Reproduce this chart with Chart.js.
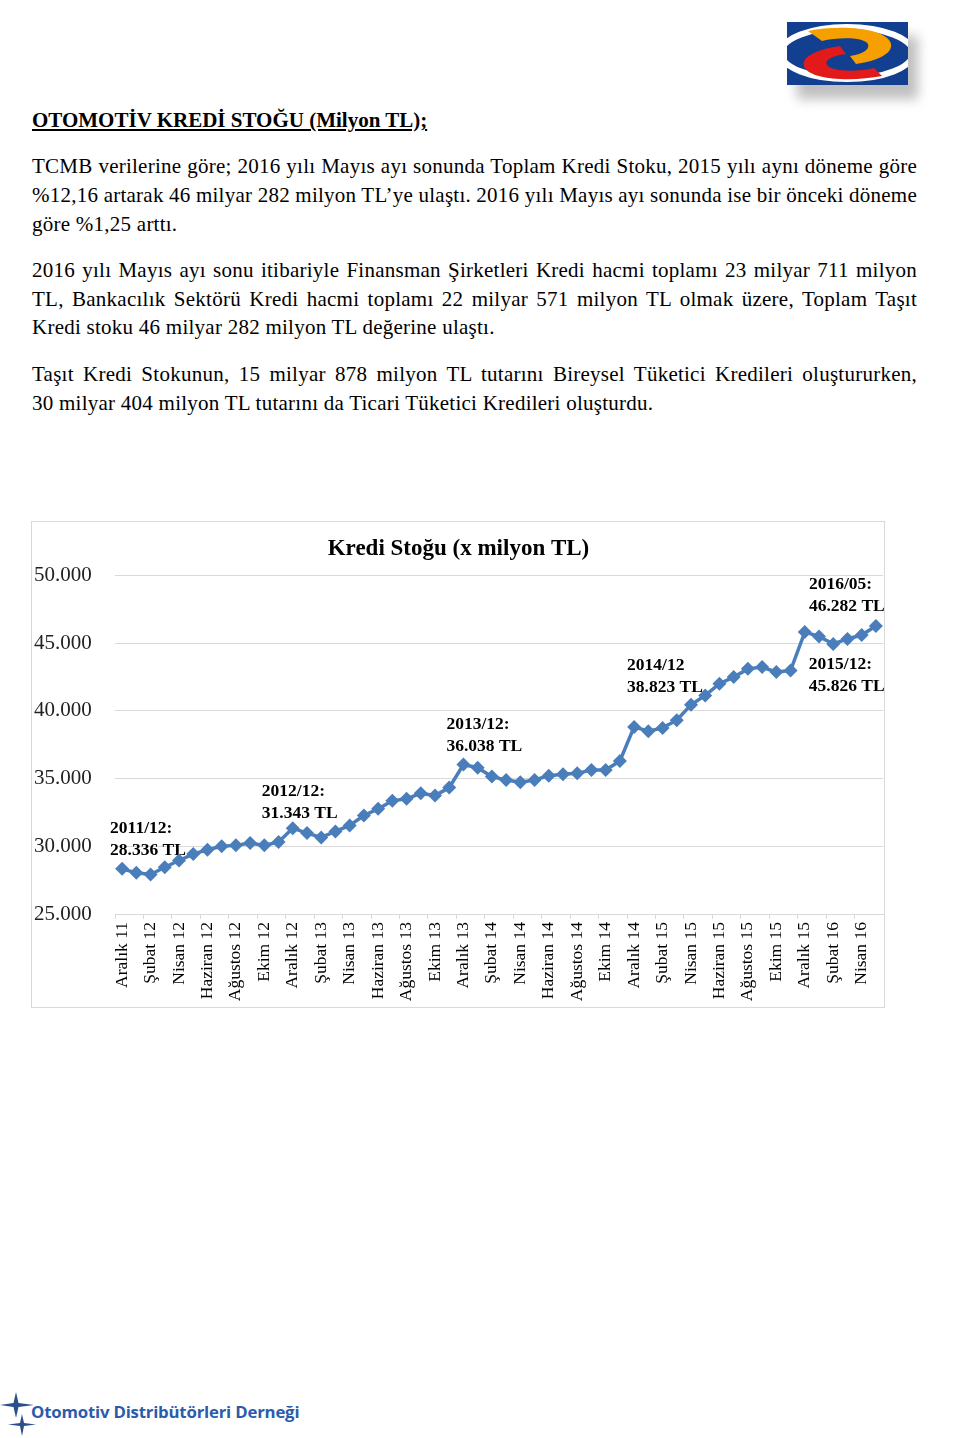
<!DOCTYPE html>
<html lang="tr">
<head>
<meta charset="utf-8">
<script src="https://cdn.jsdelivr.net/npm/chart.js@4"></script>
<style>
  html, body { margin: 0; padding: 0; background: #fff; }
  body { width: 960px; height: 1438px; position: relative; overflow: hidden; font-family: "Liberation Serif", serif; color: #000; }
  .ln { position: absolute; left: 32px; font-size: 21px; letter-spacing: 0.25px; line-height: 29px; white-space: nowrap; }
  #head { position: absolute; left: 32px; top: 106px; font-size: 21px; font-weight: bold; text-decoration: underline; line-height: 28px; }
  #frame { position: absolute; left: 31px; top: 521px; width: 852px; height: 485px; border: 1px solid #d9d9d9; }
  #foot { position: absolute; left: 31px; top: 1400px; font-family: "Open Sans", sans-serif; font-weight: bold; font-size: 16.8px; color: #2b5cab; letter-spacing: -0.2px; }
</style>
</head>
<body>
<svg style="position:absolute;left:770px;top:10px" width="190" height="120" viewBox="0 0 190 120">
  <defs>
    <filter id="sh" x="-30%" y="-30%" width="170%" height="190%"><feGaussianBlur stdDeviation="6"/></filter>
    <clipPath id="cp"><rect x="17" y="12" width="121" height="63"/></clipPath>
  </defs>
  <rect x="27" y="26" width="121" height="63" fill="#8a8a8a" opacity="0.55" filter="url(#sh)"/>
  <rect x="17" y="12" width="121" height="63" fill="#123f8f"/>
  <g clip-path="url(#cp)">
    <ellipse cx="77" cy="43" rx="66" ry="26" fill="none" stroke="#fff" stroke-width="6"/>
    <path d="M38 21 C70 14 118 18 121 34 C123 46 100 52 86 54 L80 46 C92 44 100 40 98 34 C94 27 68 27 52 31 Z" fill="#f5a000"/>
    <path d="M112 66 C82 72 38 70 34 56 C31 44 56 38 70 36 L76 44 C62 46 54 50 57 55 C62 62 88 62 104 58 Z" fill="#e31a1a"/>
  </g>
</svg>

<div id="head">OTOMOTİV KREDİ STOĞU (Milyon TL);</div>

<div class="ln j" style="top:152px">TCMB verilerine göre; 2016 yılı Mayıs ayı sonunda Toplam Kredi Stoku, 2015 yılı aynı döneme göre</div>
<div class="ln j" style="top:181px">%12,16 artarak 46 milyar 282 milyon TL’ye ulaştı. 2016 yılı Mayıs ayı sonunda ise bir önceki döneme</div>
<div class="ln" style="top:210px">göre %1,25 arttı.</div>

<div class="ln j" style="top:256px">2016 yılı Mayıs ayı sonu itibariyle Finansman Şirketleri Kredi hacmi toplamı 23 milyar 711 milyon</div>
<div class="ln j" style="top:285px">TL, Bankacılık Sektörü Kredi hacmi toplamı 22 milyar 571 milyon TL olmak üzere, Toplam Taşıt</div>
<div class="ln" style="top:313px">Kredi stoku 46 milyar 282 milyon TL değerine ulaştı.</div>

<div class="ln j" style="top:360px">Taşıt Kredi Stokunun, 15 milyar 878 milyon TL tutarını Bireysel Tüketici Kredileri oluştururken,</div>
<div class="ln" style="top:389px">30 milyar 404 milyon TL tutarını da Ticari Tüketici Kredileri oluşturdu.</div>

<div id="frame"><canvas id="c" width="852" height="485"></canvas></div>

<svg style="position:absolute;left:0;top:1390px" width="36" height="48" viewBox="0 0 36 48">
  <path d="M16 2 L18.5 13 L34 15 L18.5 17 L16 28 L13.5 17 L0 15 L13.5 13 Z" fill="#2b4f8a"/>
  <path d="M22 24 L24 33 L36 34.5 L24 36 L22 46 L20 36 L8 34.5 L20 33 Z" fill="#2b4f8a"/>
</svg>
<div id="foot">Otomotiv Distribütörleri Derneği</div>

<script>
// justify full-width lines exactly to 885px
document.querySelectorAll('.ln.j').forEach(el => {
  const w = el.getBoundingClientRect().width;
  const spaces = (el.textContent.match(/ /g) || []).length;
  if (spaces > 0) el.style.wordSpacing = ((885 - w) / spaces) + 'px';
});

const categories = [
  "Aralık 11",
  "Ocak 12","Şubat 12","Mart 12","Nisan 12","Mayıs 12","Haziran 12","Temmuz 12","Ağustos 12","Eylül 12","Ekim 12","Kasım 12","Aralık 12",
  "Ocak 13","Şubat 13","Mart 13","Nisan 13","Mayıs 13","Haziran 13","Temmuz 13","Ağustos 13","Eylül 13","Ekim 13","Kasım 13","Aralık 13",
  "Ocak 14","Şubat 14","Mart 14","Nisan 14","Mayıs 14","Haziran 14","Temmuz 14","Ağustos 14","Eylül 14","Ekim 14","Kasım 14","Aralık 14",
  "Ocak 15","Şubat 15","Mart 15","Nisan 15","Mayıs 15","Haziran 15","Temmuz 15","Ağustos 15","Eylül 15","Ekim 15","Kasım 15","Aralık 15",
  "Ocak 16","Şubat 16","Mart 16","Nisan 16","Mayıs 16"
];
const krediStogu = [
  28336,
  28040,27920,28455,28950,29430,29750,30000,30070,30240,30070,30320,31343,
  30980,30660,31100,31540,32280,32770,33360,33510,33920,33750,34340,36038,
  35810,35150,34900,34730,34900,35220,35320,35390,35640,35640,36300,38823,
  38500,38750,39320,40460,41150,42010,42500,43110,43240,42870,42990,45826,
  45510,44950,45320,45610,46282
];
const yTicks = [25000, 30000, 35000, 40000, 45000, 50000];
const annotations = [
  { index: 0,  lines: ["2011/12:", "28.336 TL"], dx: -12, dy: -40 },
  { index: 12, lines: ["2012/12:", "31.343 TL"], dx: -31, dy: -37 },
  { index: 24, lines: ["2013/12:", "36.038 TL"], dx: -17, dy: -40 },
  { index: 36, lines: ["2014/12",  "38.823 TL"], dx: -7,  dy: -61 },
  { index: 48, lines: ["2015/12:", "45.826 TL"], dx: 4,   dy: 32 },
  { index: 53, lines: ["2016/05:", "46.282 TL"], dx: -67, dy: -41 }
];

function fmt(v) {
  return String(Math.round(v)).replace(/\B(?=(\d{3})+(?!\d))/g, ".");
}

const annotPlugin = {
  id: 'annot',
  beforeDatasetsDraw(chart) {
    const ctx = chart.ctx;
    const xs = chart.scales.x, ys = chart.scales.y;
    ctx.save();
    ctx.font = 'bold 17.5px "Liberation Serif"';
    ctx.fillStyle = '#000';
    ctx.textBaseline = 'middle';
    ctx.textAlign = 'left';
    annotations.forEach(a => {
      const px = xs.getPixelForValue(a.index);
      const py = ys.getPixelForValue(krediStogu[a.index]);
      a.lines.forEach((t, k) => ctx.fillText(t, px + a.dx, py + a.dy + k * 22));
    });
    ctx.restore();
  }
};

new Chart(document.getElementById('c'), {
  type: 'line',
  data: {
    labels: categories,
    datasets: [{
      data: krediStogu,
      borderColor: '#4a7ebb',
      backgroundColor: '#4a7ebb',
      borderWidth: 3.5,
      pointStyle: 'rectRot',
      pointRadius: 7,
      pointBorderWidth: 0,
      tension: 0,
      fill: false,
      clip: false
    }]
  },
  options: {
    responsive: false,
    animation: false,
    layout: { autoPadding: false, padding: { left: 2, right: 1, top: 0, bottom: 0 } },
    plugins: {
      legend: { display: false },
      tooltip: { enabled: false },
      title: {
        display: true,
        text: 'Kredi Stoğu (x milyon TL)',
        color: '#000',
        font: { family: 'Liberation Serif', size: 23, weight: 'bold' },
        padding: { top: 13, bottom: 13 }
      }
    },
    scales: {
      x: {
        offset: true,
        grid: {
          offset: true,
          drawOnChartArea: false,
          tickLength: 5,
          color: c => (c.index % 2 === 0 ? '#d9d9d9' : 'rgba(0,0,0,0)')
        },
        border: { display: true, color: '#d9d9d9' },
        ticks: {
          autoSkip: false,
          minRotation: 90,
          maxRotation: 90,
          padding: 3,
          color: '#000',
          font: { family: 'Liberation Serif', size: 17.5 },
          callback: (v, i) => (i % 2 === 0 ? categories[i] : '')
        },
        afterFit: s => { s.height = 93; s.paddingLeft = 0; s.paddingRight = 0; }
      },
      y: {
        min: 25000,
        max: 50000,
        afterBuildTicks: s => { s.ticks = yTicks.map(v => ({ value: v })); },
        grid: { color: '#d9d9d9', drawTicks: false },
        border: { display: false },
        ticks: {
          crossAlign: 'far',
          color: '#222',
          font: { family: 'Liberation Serif', size: 21 },
          callback: v => fmt(v)
        },
        afterFit: s => { s.width = 81; }
      }
    }
  },
  plugins: [annotPlugin]
});
</script>
</body>
</html>
